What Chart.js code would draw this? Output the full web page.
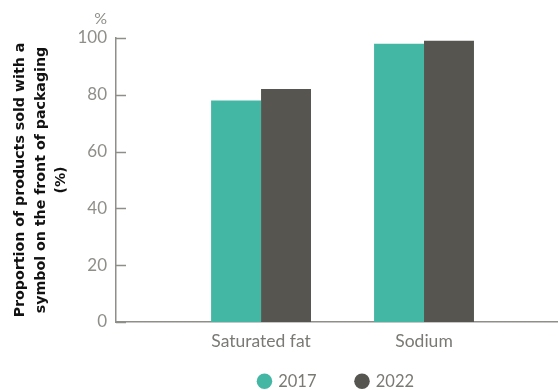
<!DOCTYPE html>
<html>
<head>
<meta charset="utf-8">
<script src="https://cdn.jsdelivr.net/npm/chart.js@4"></script>
<style>
  html, body { margin: 0; padding: 0; background: #fff; }
  #wrap { width: 558px; height: 390px; position: relative; }
</style>
</head>
<body>
<div id="wrap"><canvas id="chart"></canvas></div>
<script>
// data
const categories = ['Saturated fat', 'Sodium'];
const values2017 = [78, 98];
const values2022 = [82, 99];
const yTicks = [0, 20, 40, 60, 80, 100];

const TEAL = '#43b7a4';
const DARK = '#56554f';
const AXIS = '#8f8e89';
const TEXT = '#7a7974';

// inward tick marks on the y axis, the "%" unit label,
// and the legend moved under the plot area
const axisExtras = {
  id: 'axisExtras',
  afterLayout(chart) {
    const lg = chart.legend;
    lg.left = chart.chartArea.left;
    lg.right = chart.chartArea.right;
    lg.top = chart.chartArea.bottom + 11;
    lg.bottom = chart.height;
  },
  afterDraw(chart) {
    const ctx = chart.ctx;
    const y = chart.scales.y;
    ctx.save();
    ctx.strokeStyle = AXIS;
    ctx.lineWidth = 1.5;
    y.ticks.forEach(t => {
      const py = Math.round(y.getPixelForValue(t.value)) + 0.5;
      ctx.beginPath();
      ctx.moveTo(y.right, py);
      ctx.lineTo(y.right + 10, py);
      ctx.stroke();
    });
    ctx.fillStyle = AXIS;
    ctx.font = '16px Lato';
    ctx.textAlign = 'right';
    ctx.textBaseline = 'middle';
    ctx.fillText('%', y.right - 9, y.getPixelForValue(100) - 19);
    ctx.restore();
  }
};

const toPoints = arr => arr.map((v, i) => ({ x: i + 1, y: v }));

new Chart(document.getElementById('chart'), {
  type: 'bar',
  data: {
    datasets: [
      { label: '2017', data: toPoints(values2017), backgroundColor: TEAL, borderWidth: 0 },
      { label: '2022', data: toPoints(values2022), backgroundColor: DARK, borderWidth: 0 }
    ]
  },
  options: {
    responsive: true,
    maintainAspectRatio: false,
    animation: false,
    categoryPercentage: 0.613,
    barPercentage: 1,
    layout: { padding: { top: 38, right: 1, left: 0, bottom: 2 } },
    plugins: {
      tooltip: { enabled: false },
      legend: {
        position: 'bottom',
        maxHeight: 38,
        labels: {
          usePointStyle: true,
          pointStyle: 'circle',
          boxWidth: 11,
          boxHeight: 11,
          padding: 40,
          color: TEXT,
          font: { family: 'Lato', size: 16.5 }
        }
      }
    },
    scales: {
      x: {
        type: 'linear',
        offset: false,
        min: 0.11,
        max: 2.816,
        grid: { display: false, drawTicks: false },
        border: { color: AXIS, width: 1.5 },
        afterBuildTicks: s => { s.ticks = categories.map((c, i) => ({ value: i + 1 })); },
        afterFit: s => { s.height = 28; },
        ticks: {
          padding: 9,
          maxRotation: 0,
          color: TEXT,
          font: { family: 'Lato', size: 17.5 },
          callback: v => categories[v - 1]
        }
      },
      y: {
        min: 0,
        max: 100,
        afterBuildTicks: s => { s.ticks = yTicks.map(v => ({ value: v })); },
        afterFit: s => { s.width = 116; },
        grid: { display: false, drawTicks: false },
        border: { color: AXIS, width: 1.5 },
        ticks: {
          padding: 9,
          color: AXIS,
          font: { family: 'Lato', size: 17 }
        },
        title: {
          display: true,
          text: ['Proportion of products sold with a', 'symbol on the front of packaging', '(%)'],
          color: '#111',
          font: { family: 'DejaVu Sans', size: 14.2, weight: 'bold', lineHeight: 1.45 },
          padding: { top: 10, bottom: 0 }
        }
      }
    }
  },
  plugins: [axisExtras]
});
</script>
</body>
</html>
